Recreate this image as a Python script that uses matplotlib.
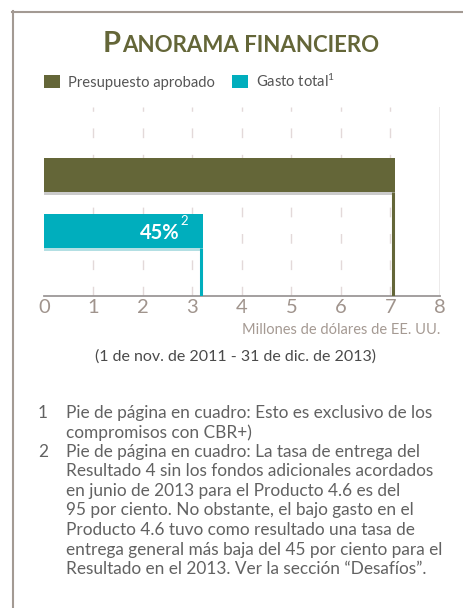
import matplotlib
matplotlib.use("Agg")
import matplotlib.pyplot as plt
from matplotlib.lines import Line2D
from matplotlib.offsetbox import TextArea, HPacker, AnnotationBbox
import matplotlib.transforms as mtransforms

plt.rcParams["mathtext.fontset"] = "custom"
plt.rcParams["mathtext.rm"] = "Lato"
plt.rcParams["mathtext.it"] = "Lato"

# ---- data ----
categories = ["Presupuesto aprobado", "Gasto total"]
values = [7.09, 3.21]
bar_label = "45%"
bar_label_note = "2"
legend_notes = ["", "1"]
xticks = [0, 1, 2, 3, 4, 5, 6, 7, 8]
xlabel = "Millones de dólares de EE. UU."
title_first = "P"
title_rest = "ANORAMA FINANCIERO"
period = "(1 de nov. de 2011 - 31 de dic. de 2013)"
footnotes = [
    ("1", ["Pie de página en cuadro: Esto es exclusivo de los",
           "compromisos con CBR+)"]),
    ("2", ["Pie de página en cuadro: La tasa de entrega del",
           "Resultado 4 sin los fondos adicionales acordados",
           "en junio de 2013 para el Producto 4.6 es del",
           "95 por ciento. No obstante, el bajo gasto en el",
           "Producto 4.6 tuvo como resultado una tasa de",
           "entrega general más baja del 45 por ciento para el",
           "Resultado en el 2013. Ver la sección \u201cDesafíos\u201d."]),
]

OLIVE = "#646638"
TEAL = "#00aebd"
SHADOW = ["#cbcbcb", "#b3dfe3"]
GRID = "#e3d9d9"
FRAME = "#a39a93"
TICKC = "#a0948d"
TEXTC = "#626262"
FONT = "Lato"

W, H = 464, 608
fig = plt.figure(figsize=(W / 100, H / 100), dpi=100)
fig.patch.set_facecolor("white")

def fx(px):
    return px / W

def fy(py):
    return 1 - py / H

# frame (left and top)
fig.add_artist(Line2D([fx(13), fx(13)], [fy(11), fy(608)], color=FRAME, lw=1.5))
fig.add_artist(Line2D([fx(12), fx(464)], [fy(12), fy(12)], color=FRAME, lw=1.5))

# axes
ax_l, ax_r, ax_t, ax_b = 44, 440, 107, 296
ax = fig.add_axes([fx(ax_l), fy(ax_b), fx(ax_r - ax_l), (ax_b - ax_t) / H])
unit = 56.0  # px per category unit
ypos = [1, 0]
ax.set_xlim(0, 8)
ax.set_ylim(-65 / unit, (ax_b - ax_t - 65) / unit)
bh = 34 / unit
sh = 3 / unit

# grid
for t in xticks[1:-1]:
    ax.axvline(t, color=GRID, lw=1.0, linestyle=(0, (7, 12)), zorder=0)
ax.axvline(xticks[-1], color="#e9e6e6", lw=1.2, zorder=0)

colors = [OLIVE, TEAL]
bars = []
for i, (cat, v, y) in enumerate(zip(categories, values, ypos)):
    ax.barh(y - bh / 2 - sh / 2, v, height=sh, color=SHADOW[i], zorder=2, linewidth=0)
    b = ax.barh(y, v, height=bh, color=colors[i], zorder=3, linewidth=0, label=cat)
    bars.append(b)
    off = mtransforms.ScaledTranslation(-1.5 / 100, 0, fig.dpi_scale_trans)
    ax.vlines(v, ax.get_ylim()[0], y - bh / 2, color=colors[i], lw=2.2,
              transform=ax.transData + off, zorder=4)

# bar label
ax.annotate(bar_label, xy=(values[1], ypos[1]), xytext=(-23, -2), textcoords="offset pixels",
            ha="right", va="center", color="white", fontsize=14.5, fontweight="bold",
            family=FONT, zorder=5)
ax.annotate(bar_label_note, xy=(values[1], ypos[1]), xytext=(-22, 10), textcoords="offset pixels",
            ha="left", va="center", color="white", fontsize=9.5, family=FONT, zorder=5)

for s in ["top", "right", "left"]:
    ax.spines[s].set_visible(False)
ax.spines["bottom"].set_color("#9c9797")
ax.spines["bottom"].set_linewidth(1.3)
ax.set_yticks([])
ax.set_xticks(xticks)
ax.set_xticklabels([str(t) for t in xticks], family=FONT, fontsize=14.5, color=TICKC)
ax.tick_params(axis="x", length=0, pad=2)
ax.patch.set_alpha(0)

fig.text(fx(440), fy(330), xlabel, ha="right", va="center", family=FONT, fontsize=10.5,
         color="#a59a93")

# title (small caps emulation)
ta1 = TextArea(title_first, textprops=dict(family=FONT, fontsize=21, fontweight="bold", color=OLIVE))
ta2 = TextArea(title_rest, textprops=dict(family=FONT, fontsize=16, fontweight="bold", color=OLIVE))
pack = HPacker(children=[ta1, ta2], align="baseline", pad=0, sep=1)
ab = AnnotationBbox(pack, (fx(241), fy(44)), xycoords="figure fraction", frameon=False,
                    box_alignment=(0.5, 0.5))
fig.add_artist(ab)

# legend
leg = fig.legend(handles=bars,
                 labels=[c + (r"$^{%s}$" % n if n else "") for c, n in zip(categories, legend_notes)],
                 loc="center left", bbox_to_anchor=(fx(44), fy(81)), ncol=2, frameon=False,
                 prop=dict(family=FONT, size=10.6),
                 handlelength=1.1, handleheight=1.05, handletextpad=0.5,
                 columnspacing=1.2, borderpad=0, borderaxespad=0)
for t in leg.get_texts():
    t.set_color("#555555")

# period
fig.text(fx(236), fy(357), period, ha="center", va="center", family=FONT, fontsize=11.5,
         color="#4a4a4a")

# footnotes
y = 413
lh = 19.5
for num, lines in footnotes:
    fig.text(fx(38), fy(y), num, ha="left", va="center", family=FONT, fontsize=12.4,
             color=TEXTC)
    for ln in lines:
        fig.text(fx(66), fy(y), ln, ha="left", va="center", family=FONT, fontsize=12.4,
                 color=TEXTC)
        y += lh

fig.savefig("out.png", dpi=100, facecolor="white")
